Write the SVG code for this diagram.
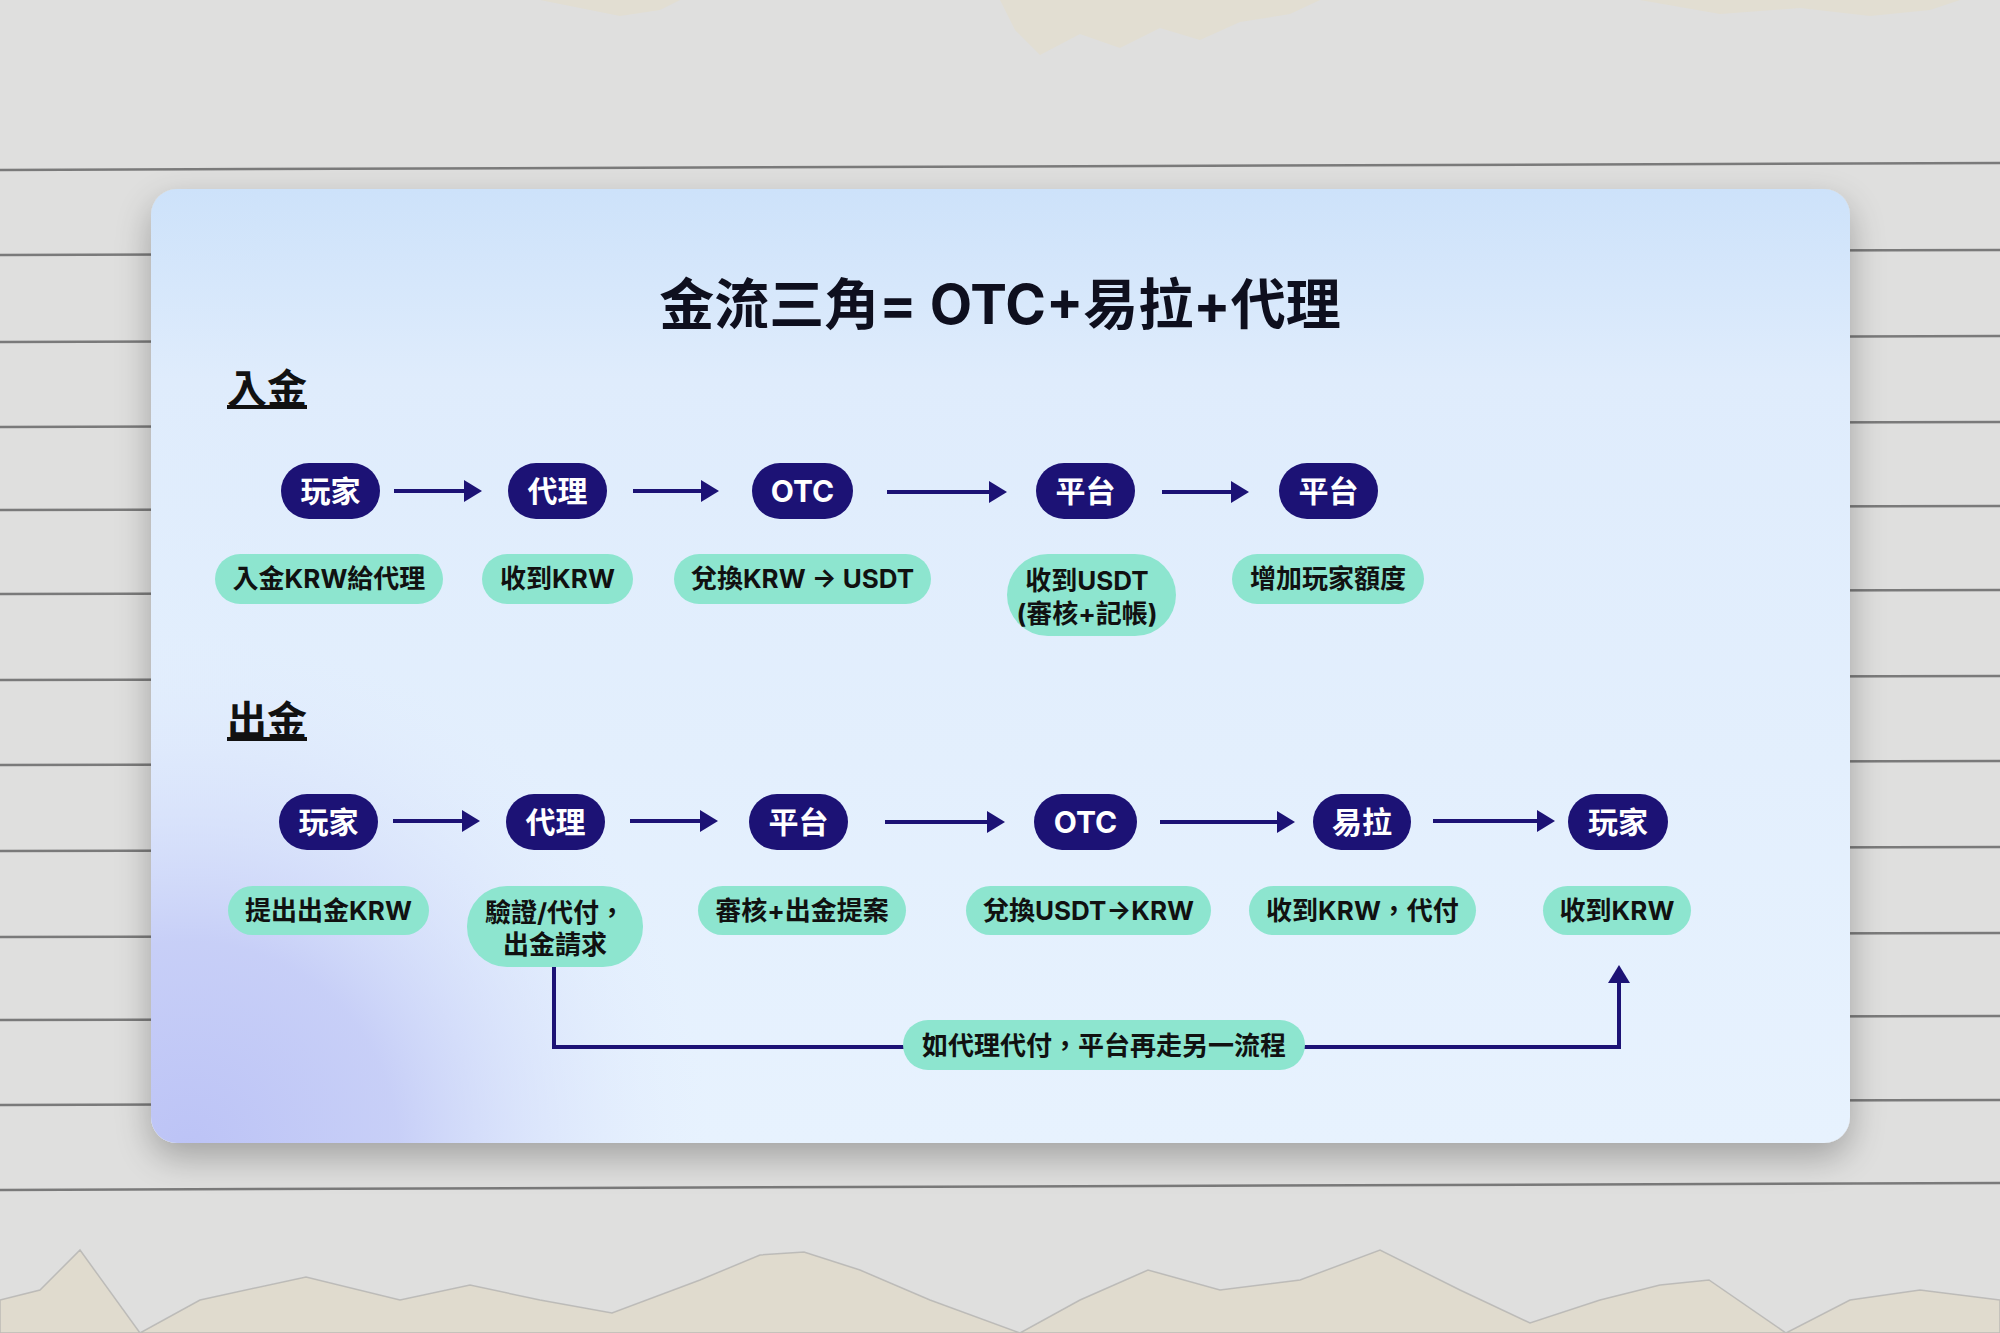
<svg xmlns="http://www.w3.org/2000/svg" width="2000" height="1333" viewBox="0 0 2000 1333">
  <style>
    .f { font-family: "Inter", "Noto Sans CJK TC", "Noto Sans CJK SC", sans-serif; font-weight: 700; }
    .node rect { fill: #1c1275; }
    .node text { fill: #ffffff; font-size: 30px; text-anchor: middle; }
    .lbl rect { fill: #8de5cf; }
    .lbl text { fill: #111111; font-size: 26px; text-anchor: middle; }
    .arrow { stroke: #1c1275; stroke-width: 4; fill: none; marker-end: url(#ah); }
    .pline { stroke: #7a7a7a; stroke-width: 2.5; }
  </style>
  <defs>
    <marker id="ah" markerUnits="userSpaceOnUse" markerWidth="18" markerHeight="22" refX="7" refY="11" orient="auto">
      <path d="M0,0 L18,11 L0,22 z" fill="#1c1275"/>
    </marker>
    <linearGradient id="cardg" x1="0" y1="189" x2="0" y2="1143" gradientUnits="userSpaceOnUse">
      <stop offset="0" stop-color="#cde2fa"/>
      <stop offset="0.2" stop-color="#dfecfc"/>
      <stop offset="1" stop-color="#e7f2fe"/>
    </linearGradient>
    <radialGradient id="lav" cx="190" cy="1150" r="520" gradientUnits="userSpaceOnUse">
      <stop offset="0" stop-color="#bcc3f6" stop-opacity="1"/>
      <stop offset="0.4" stop-color="#c2c9f6" stop-opacity="0.85"/>
      <stop offset="0.75" stop-color="#d3dcfa" stop-opacity="0.35"/>
      <stop offset="1" stop-color="#e2ecfd" stop-opacity="0"/>
    </radialGradient>
    <clipPath id="cardclip">
      <rect x="151" y="189" width="1699" height="954" rx="26"/>
    </clipPath>
    <filter id="shadow" x="-10%" y="-10%" width="120%" height="130%">
      <feGaussianBlur in="SourceAlpha" stdDeviation="18"/>
      <feOffset dx="0" dy="14" result="b"/>
      <feComponentTransfer><feFuncA type="linear" slope="0.28"/></feComponentTransfer>
      <feMerge><feMergeNode/><feMergeNode in="SourceGraphic"/></feMerge>
    </filter>
  </defs>

  <!-- paper background -->
  <g id="background">
    <rect x="0" y="0" width="2000" height="1333" fill="#dfdfde"/>
    <!-- top beige torn strip -->
    <path d="M540,0 L680,0 L660,10 L620,16 L580,8 Z" fill="#e2ded2"/>
    <path d="M1000,0 L1320,0 L1290,14 L1240,22 L1200,40 L1160,28 L1120,48 L1080,34 L1040,55 L1015,30 Z" fill="#e2ded2"/>
    <path d="M1640,0 L1960,0 L1930,10 L1870,16 L1800,8 L1720,14 Z" fill="#e2ded2"/>
    <!-- ruled lines -->
    <line class="pline" x1="0" y1="170" x2="2000" y2="163"/>
    <line class="pline" x1="0" y1="255" x2="2000" y2="250"/>
    <line class="pline" x1="0" y1="342" x2="2000" y2="336"/>
    <line class="pline" x1="0" y1="427" x2="2000" y2="422"/>
    <line class="pline" x1="0" y1="510" x2="2000" y2="506"/>
    <line class="pline" x1="0" y1="594" x2="2000" y2="590"/>
    <line class="pline" x1="0" y1="680" x2="2000" y2="676"/>
    <line class="pline" x1="0" y1="765" x2="2000" y2="761"/>
    <line class="pline" x1="0" y1="851" x2="2000" y2="847"/>
    <line class="pline" x1="0" y1="937" x2="2000" y2="933"/>
    <line class="pline" x1="0" y1="1020" x2="2000" y2="1016"/>
    <line class="pline" x1="0" y1="1105" x2="2000" y2="1100"/>
    <line class="pline" x1="0" y1="1190" x2="2000" y2="1183"/>
    <!-- bottom torn edge: beige underneath -->
    <path d="M0,1300 L40,1290 L80,1250 L140,1333 L200,1300 L306,1277 L400,1300 L470,1285 L540,1300 L612,1313 L700,1280 L760,1255 L804,1252 L860,1270 L930,1300 L1020,1333 L1080,1300 L1148,1270 L1220,1290 L1300,1280 L1380,1250 L1460,1290 L1530,1323 L1600,1300 L1660,1285 L1709,1280 L1786,1333 L1850,1300 L1920,1290 L2000,1300 L2000,1333 L0,1333 Z" fill="#e0dbce" stroke="#a5a5a5" stroke-width="1.5" stroke-opacity="0.6"/>
  </g>

  <!-- card -->
  <g id="card" filter="url(#shadow)">
    <rect x="151" y="189" width="1699" height="954" rx="26" fill="url(#cardg)"/>
  </g>
  <g clip-path="url(#cardclip)">
    <rect x="151" y="600" width="800" height="543" fill="url(#lav)"/>
  </g>

  <g id="title">
    <text class="f" x="1000" y="324" font-size="55" text-anchor="middle" fill="#0e0f1e">金流三角= OTC+易拉+代理</text>
  </g>

  <g id="section-deposit">
    <text class="f" x="227" y="403" font-size="40" fill="#111111" text-decoration="underline">入金</text>
  </g>
  <g id="section-withdraw">
    <text class="f" x="227" y="735" font-size="40" fill="#111111" text-decoration="underline">出金</text>
  </g>

  <!-- connectors -->
  <g id="connectors">
    <line class="arrow" x1="394" y1="491" x2="471" y2="491"/>
    <line class="arrow" x1="633" y1="491" x2="708" y2="491"/>
    <line class="arrow" x1="887" y1="492" x2="996" y2="492"/>
    <line class="arrow" x1="1162" y1="492" x2="1238" y2="492"/>

    <line class="arrow" x1="393" y1="821" x2="469" y2="821"/>
    <line class="arrow" x1="630" y1="821" x2="707" y2="821"/>
    <line class="arrow" x1="885" y1="822" x2="994" y2="822"/>
    <line class="arrow" x1="1160" y1="822" x2="1284" y2="822"/>
    <line class="arrow" x1="1433" y1="821" x2="1544" y2="821"/>

    <path class="arrow" d="M554,965 V1047 H1619 V976" stroke-width="3.5"/>
  </g>

  <!-- row 1 nodes -->
  <g id="d-player" class="node f"><rect x="281" y="463" width="99" height="56" rx="28"/><text x="330.5" y="502">玩家</text></g>
  <g id="d-agent" class="node f"><rect x="508" y="463" width="99" height="56" rx="28"/><text x="557.5" y="502">代理</text></g>
  <g id="d-otc" class="node f"><rect x="752" y="463" width="101" height="56" rx="28"/><text x="802.5" y="502">OTC</text></g>
  <g id="d-platform1" class="node f"><rect x="1036" y="463" width="99" height="56" rx="28"/><text x="1085.5" y="502">平台</text></g>
  <g id="d-platform2" class="node f"><rect x="1279" y="463" width="99" height="56" rx="28"/><text x="1328.5" y="502">平台</text></g>

  <!-- row 1 labels -->
  <g id="d-lbl1" class="lbl f"><rect x="215" y="554" width="228" height="50" rx="25"/><text x="329" y="588">入金KRW給代理</text></g>
  <g id="d-lbl2" class="lbl f"><rect x="482" y="554" width="151" height="50" rx="25"/><text x="557.5" y="588">收到KRW</text></g>
  <g id="d-lbl3" class="lbl f"><rect x="674" y="554" width="257" height="50" rx="25"/><text x="802.5" y="588">兌換KRW → USDT</text></g>
  <g id="d-lbl4" class="lbl f"><rect x="1007" y="554" width="169" height="82" rx="41"/><text x="1087" y="590">收到USDT</text><text x="1087" y="623">(審核+記帳)</text></g>
  <g id="d-lbl5" class="lbl f"><rect x="1232" y="554" width="192" height="50" rx="25"/><text x="1328" y="588">增加玩家額度</text></g>

  <!-- row 2 nodes -->
  <g id="w-player" class="node f"><rect x="279" y="794" width="99" height="56" rx="28"/><text x="328.5" y="833">玩家</text></g>
  <g id="w-agent" class="node f"><rect x="506" y="794" width="99" height="56" rx="28"/><text x="555.5" y="833">代理</text></g>
  <g id="w-platform" class="node f"><rect x="749" y="794" width="99" height="56" rx="28"/><text x="798.5" y="833">平台</text></g>
  <g id="w-otc" class="node f"><rect x="1034" y="794" width="103" height="56" rx="28"/><text x="1085.5" y="833">OTC</text></g>
  <g id="w-yila" class="node f"><rect x="1313" y="794" width="98" height="56" rx="28"/><text x="1362" y="833">易拉</text></g>
  <g id="w-player2" class="node f"><rect x="1568" y="794" width="100" height="56" rx="28"/><text x="1618" y="833">玩家</text></g>

  <!-- row 2 labels -->
  <g id="w-lbl1" class="lbl f"><rect x="228" y="886" width="201" height="49" rx="24.5"/><text x="328.5" y="920">提出出金KRW</text></g>
  <g id="w-lbl2" class="lbl f"><rect x="467" y="886" width="176" height="81" rx="40"/><text x="555" y="922">驗證/代付，</text><text x="555" y="954">出金請求</text></g>
  <g id="w-lbl3" class="lbl f"><rect x="698" y="886" width="208" height="49" rx="24.5"/><text x="802" y="920">審核+出金提案</text></g>
  <g id="w-lbl4" class="lbl f"><rect x="966" y="886" width="245" height="49" rx="24.5"/><text x="1088.5" y="920">兌換USDT→KRW</text></g>
  <g id="w-lbl5" class="lbl f"><rect x="1249" y="886" width="227" height="49" rx="24.5"/><text x="1362.5" y="920">收到KRW，代付</text></g>
  <g id="w-lbl6" class="lbl f"><rect x="1543" y="886" width="148" height="49" rx="24.5"/><text x="1617" y="920">收到KRW</text></g>

  <!-- loop label -->
  <g id="loop-label" class="lbl f"><rect x="903" y="1020" width="402" height="50" rx="25"/><text x="1104" y="1055">如代理代付，平台再走另一流程</text></g>
</svg>
